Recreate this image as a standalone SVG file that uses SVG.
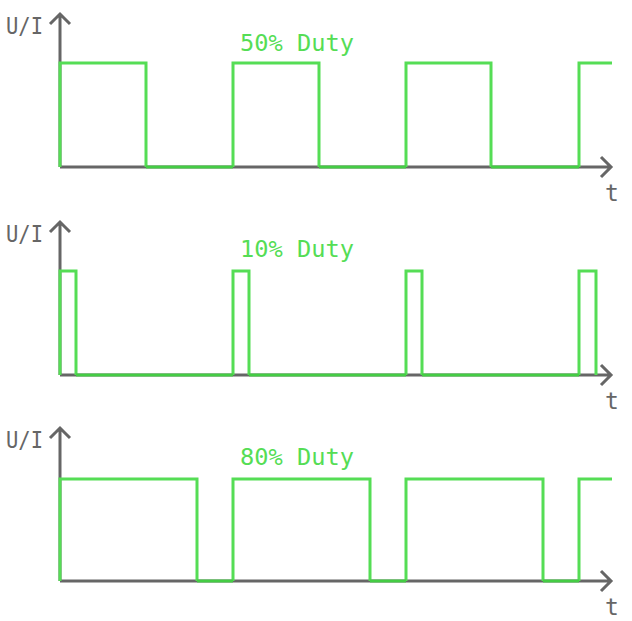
<svg xmlns="http://www.w3.org/2000/svg" width="632" height="621" viewBox="0 0 632 621">
<style>
.ax{fill:none;stroke:#666;stroke-width:3}
.hi{fill:none;stroke:#5d5;stroke-width:3}
.lo{fill:none;stroke:#4c4;stroke-width:3}
.lab{font-family:"DejaVu Sans Mono","Liberation Mono",monospace;font-size:23px;fill:#666}
.ttl{font-family:"DejaVu Sans Mono","Liberation Mono",monospace;font-size:23px;fill:#5d5}
</style>
<rect width="632" height="621" fill="#fff"/>
<defs>
<g id="axes">
<path class="ax" d="M60 167V14M50 24L60 14L70 24M60 167H611M601 157L611 167L601 177"/>
<text class="lab" x="6" y="34" textLength="37" lengthAdjust="spacingAndGlyphs">U/I</text>
<text class="lab" x="605" y="201">t</text>
</g>
</defs>
<g id="panel1">
<use href="#axes"/>
<path class="hi" d="M60 167V63H146V167M233 167V63H319V167M406 167V63H491V167M579 167V63H612"/>
<path class="lo" d="M146 167H233M319 167H406M491 167H579"/>
<text class="ttl" x="240" y="51" textLength="114" lengthAdjust="spacingAndGlyphs">50% Duty</text>
</g>
<g id="panel2" transform="translate(0,208)">
<use href="#axes"/>
<path class="hi" d="M60 167V63H76V167M233 167V63H249V167M406 167V63H422V167M579 167V63H596V167"/>
<path class="lo" d="M76 167H233M249 167H406M422 167H579"/>
<text class="ttl" x="240" y="49" textLength="114" lengthAdjust="spacingAndGlyphs">10% Duty</text>
</g>
<g id="panel3" transform="translate(0,414)">
<use href="#axes"/>
<path class="hi" d="M60 167V65H197V167M233 167V65H370V167M406 167V65H543V167M579 167V65H612"/>
<path class="lo" d="M197 167H233M370 167H406M543 167H579"/>
<text class="ttl" x="240" y="51" textLength="114" lengthAdjust="spacingAndGlyphs">80% Duty</text>
</g>
</svg>
